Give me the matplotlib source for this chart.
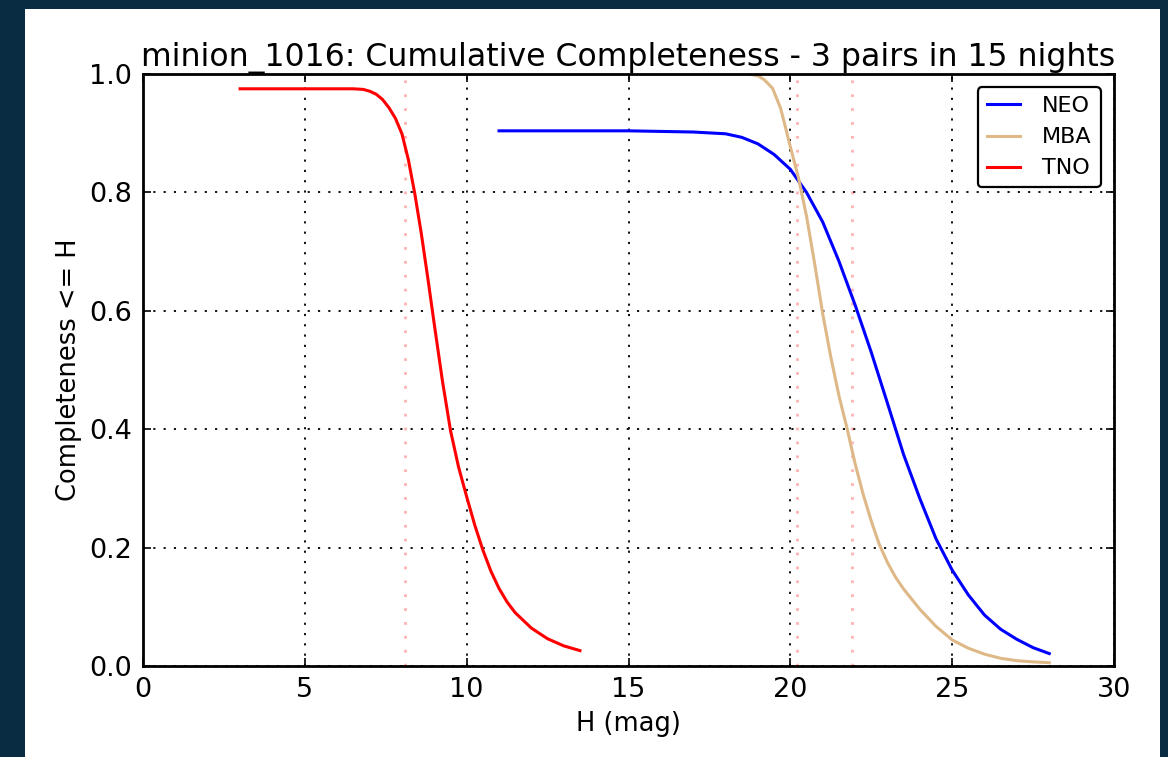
import numpy as np
import matplotlib
matplotlib.use("Agg")
import matplotlib.pyplot as plt
from matplotlib.patches import Rectangle

# cumulative completeness
tno_h = [3.0, 4.0, 5.0, 6.0, 6.5, 6.8, 7.0, 7.2, 7.4, 7.6, 7.8, 8.0, 8.2,
         8.4, 8.6, 8.8, 9.0, 9.25, 9.5, 9.75, 10.0, 10.25, 10.5, 10.75, 11.0,
         11.25, 11.5, 12.0, 12.5, 13.0, 13.5]
tno_c = [0.975, 0.975, 0.975, 0.975, 0.975, 0.974, 0.971, 0.966, 0.957, 0.943,
         0.925, 0.899, 0.855, 0.797, 0.73, 0.655, 0.577, 0.482, 0.398, 0.336,
         0.286, 0.238, 0.196, 0.16, 0.131, 0.108, 0.09, 0.064, 0.046, 0.034,
         0.026]

neo_h = [11.0, 12.0, 13.0, 14.0, 15.0, 16.0, 17.0, 18.0, 18.5, 19.0, 19.5,
         20.0, 20.5, 21.0, 21.5, 22.0, 22.5, 23.0, 23.5, 24.0, 24.5, 25.0,
         25.5, 26.0, 26.5, 27.0, 27.5, 28.0]
neo_c = [0.904, 0.904, 0.904, 0.904, 0.904, 0.903, 0.902, 0.899, 0.893, 0.882,
         0.864, 0.839, 0.80, 0.75, 0.684, 0.61, 0.53, 0.444, 0.357, 0.283,
         0.215, 0.162, 0.12, 0.086, 0.062, 0.045, 0.031, 0.021]

mba_h = [18.7, 19.0, 19.2, 19.45, 19.7, 19.85, 20.0, 20.25, 20.5, 20.75, 21.0,
         21.25, 21.5, 21.75, 22.0, 22.25, 22.5, 22.75, 23.0, 23.25, 23.5,
         24.0, 24.5, 25.0, 25.5, 26.0, 26.5, 27.0, 27.5, 28.0]
mba_c = [1.0, 0.997, 0.99, 0.976, 0.942, 0.91, 0.877, 0.825, 0.76, 0.68, 0.595,
         0.522, 0.457, 0.402, 0.342, 0.29, 0.245, 0.205, 0.175, 0.15, 0.13,
         0.096, 0.067, 0.044, 0.030, 0.020, 0.013, 0.009, 0.007, 0.0056]

# H limits marked with faint red dotted lines
h_marks = [8.1, 20.2, 21.9]

title = "minion_1016: Cumulative Completeness - 3 pairs in 15 nights"

fig = plt.figure(figsize=(11.68, 7.57), dpi=100, facecolor="#0a2c42")
fig.patches.append(Rectangle((25 / 1168, 0), 1135 / 1168, 748 / 757,
                             transform=fig.transFigure, facecolor="white",
                             edgecolor="none", zorder=-5))

ax = fig.add_axes([143 / 1168, 91 / 757, 971 / 1168, 592 / 757])

grid_style = dict(color="black", linestyle=(0, (1.2, 4.5)), linewidth=1.3)
ax.grid(True, **grid_style)
ax.set_axisbelow(True)

for h in h_marks:
    ax.axvline(h, color="red", alpha=0.3, linestyle=(0, (1.0, 4.0)), linewidth=2.0)

ax.plot(neo_h, neo_c, color="blue", lw=2.2, label="NEO")
ax.plot(mba_h, mba_c, color="burlywood", lw=2.2, label="MBA")
ax.plot(tno_h, tno_c, color="red", lw=2.2, label="TNO")

ax.set_xlim(0, 30)
ax.set_ylim(0, 1.0)
ax.set_xticks([0, 5, 10, 15, 20, 25, 30])
ax.set_yticks([0.0, 0.2, 0.4, 0.6, 0.8, 1.0])
ax.set_yticklabels(["0.0", "0.2", "0.4", "0.6", "0.8", "1.0"])
ax.tick_params(direction="in", top=True, right=True, length=6, width=1.2,
               labelsize=19.5, pad=8)
for s in ax.spines.values():
    s.set_linewidth(2)

ax.set_xlabel("H (mag)", fontsize=18.5, labelpad=6)
ax.set_ylabel("Completeness <= H", fontsize=18.5, labelpad=5)
ax.set_title(title, fontsize=22.7, pad=6)

leg = ax.legend(loc="upper right", fontsize=16, fancybox=True, framealpha=1,
                handlelength=1.5, handletextpad=1.0, borderaxespad=0.6)
leg.get_frame().set_edgecolor("black")
leg.get_frame().set_linewidth(1.6)

fig.savefig("out.png", dpi=100, facecolor=fig.get_facecolor())
